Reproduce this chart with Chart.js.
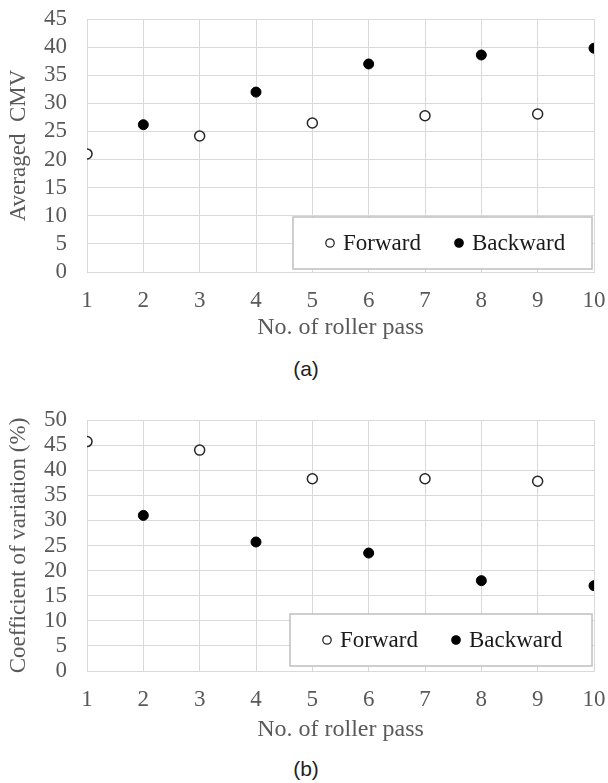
<!DOCTYPE html>
<html>
<head>
<meta charset="utf-8">
<script src="https://cdn.jsdelivr.net/npm/chart.js@4.4.1/dist/chart.umd.min.js"></script>
<style>
  body { margin: 0; background: #fff; width: 608px; height: 783px; position: relative; overflow: hidden; }
  canvas { position: absolute; left: 0; }
  #cA { top: 0; }
  #cB { top: 395px; }
  .cap { position: absolute; width: 608px; left: 0; text-align: center; font-family: "Liberation Sans", Arial, sans-serif; font-size: 21px; color: #222; padding-left: 2px; }
</style>
</head>
<body>
<canvas id="cA" width="608" height="345"></canvas>
<div class="cap" style="top:357px">(a)</div>
<canvas id="cB" width="608" height="350"></canvas>
<div class="cap" style="top:757px">(b)</div>
<script>
// roller passes
const fwdPasses = [1, 3, 5, 7, 9];
const bwdPasses = [2, 4, 6, 8, 10];

// (a) averaged CMV
const cmvForward = [21.0, 24.2, 26.5, 27.8, 28.1];
const cmvBackward = [26.2, 32.0, 37.0, 38.6, 39.8];

// (b) coefficient of variation (%)
const covForward = [45.7, 44.0, 38.3, 38.3, 37.8];
const covBackward = [31.0, 25.7, 23.5, 18.0, 17.0];

const seriesNames = ['Forward', 'Backward'];
const xTitle = 'No. of roller pass';

const serif = '"Liberation Serif", "Times New Roman", serif';
const grey = '#595959';
const gridCol = '#d9d9d9';

function pts(xs, ys) {
  return xs.map((x, i) => ({ x: x, y: ys[i] }));
}

// legend box drawn inside the plot area, bottom right
const boxLegend = {
  id: 'boxLegend',
  afterDraw(chart, args, opts) {
    const ctx = chart.ctx;
    const a = chart.chartArea;
    const w = opts.width, h = opts.height;
    const left = a.right - opts.right - w;
    const top = a.bottom - opts.bottom - h;
    ctx.save();
    ctx.fillStyle = '#fff';
    ctx.fillRect(left, top, w, h);
    ctx.strokeStyle = '#bfbfbf';
    ctx.lineWidth = 1.5;
    ctx.strokeRect(left, top, w, h);
    const cy = top + h / 2;
    const offs = [37, 166];
    ctx.font = '23px ' + serif;
    ctx.textBaseline = 'middle';
    chart.data.datasets.forEach((ds, i) => {
      const mx = left + offs[i];
      ctx.beginPath();
      ctx.arc(mx, cy, 4.2, 0, Math.PI * 2);
      ctx.fillStyle = ds.backgroundColor;
      ctx.fill();
      ctx.lineWidth = 1.3;
      ctx.strokeStyle = ds.borderColor;
      ctx.stroke();
      ctx.fillStyle = '#1a1a1a';
      ctx.fillText(ds.label, mx + 13, cy + 1);
    });
    ctx.restore();
  }
};

function makeChart(id, fwd, bwd, yMax, yTitle, padTop, xHeight, titlePad, legendOpts) {
  const ctx = document.getElementById(id).getContext('2d');
  return new Chart(ctx, {
    type: 'scatter',
    data: {
      datasets: [{
        label: seriesNames[0],
        data: pts(fwdPasses, fwd),
        backgroundColor: '#ffffff',
        borderColor: '#262626',
        borderWidth: 1.5,
        pointRadius: 5,
        pointHoverRadius: 5
      }, {
        label: seriesNames[1],
        data: pts(bwdPasses, bwd),
        backgroundColor: '#000000',
        borderColor: '#000000',
        borderWidth: 1,
        pointRadius: 5,
        pointHoverRadius: 5
      }]
    },
    options: {
      responsive: false,
      animation: false,
      layout: { autoPadding: false, padding: { top: padTop, right: 14, bottom: 0, left: 0 } },
      plugins: {
        legend: { display: false },
        tooltip: { enabled: false },
        boxLegend: legendOpts
      },
      scales: {
        x: {
          type: 'linear',
          min: 1, max: 10,
          ticks: { stepSize: 1, autoSkip: false, padding: 15, color: grey, font: { family: serif, size: 23 } },
          grid: { color: gridCol, lineWidth: 1, drawTicks: false },
          border: { color: gridCol, width: 1 },
          title: { display: true, text: xTitle, color: grey, font: { family: serif, size: 24 }, padding: { top: 0, bottom: titlePad } },
          afterFit(scale) {
            scale.height = xHeight;
            scale.paddingLeft = 0;
            scale.paddingRight = 0;
          }
        },
        y: {
          min: 0, max: yMax,
          ticks: { stepSize: 5, autoSkip: false, padding: 20, color: grey, font: { family: serif, size: 23 } },
          grid: { color: gridCol, lineWidth: 1, drawTicks: false },
          border: { color: gridCol, width: 1 },
          title: { display: true, text: yTitle, color: grey, font: { family: serif, size: 23 }, padding: { top: 5, bottom: 0 } },
          afterFit(scale) {
            scale.width = 87;
            scale.paddingTop = 0;
            scale.paddingBottom = 0;
          }
        }
      }
    },
    plugins: [boxLegend]
  });
}

makeChart('cA', cmvForward, cmvBackward, 45, 'Averaged  CMV', 19, 73, 3,
  { width: 299, height: 52, right: 2, bottom: 3 });
makeChart('cB', covForward, covBackward, 50, 'Coefficient of variation (%)', 25, 74, 1,
  { width: 302, height: 52, right: 2, bottom: 5 });
</script>
</body>
</html>
